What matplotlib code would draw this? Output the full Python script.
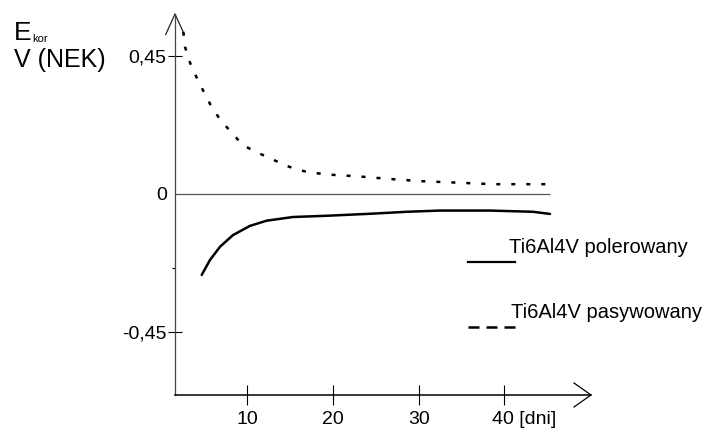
import numpy as np
import matplotlib
matplotlib.use("Agg")
import matplotlib.pyplot as plt
import matplotlib.transforms as mtransforms
from matplotlib.lines import Line2D

plt.rcParams['font.family'] = ['Liberation Sans', 'DejaVu Sans']

# czas ekspozycji [dni] i potencjal korozyjny [V wzgl. NEK]
dni_pol = [4.7, 5.67, 6.84, 8.35, 10.33, 12.28, 15.35, 19.28, 23.17, 24.68,
           28.61, 32.5, 38.32, 43.34, 45.33]
ekor_pol = [-0.264, -0.215, -0.172, -0.134, -0.104, -0.087, -0.075, -0.071,
            -0.066, -0.064, -0.058, -0.054, -0.054, -0.058, -0.065]

dni_pas = [2.55, 2.75, 3.34, 4.12, 5.0, 5.87, 6.95, 8.2, 9.48, 11.03, 12.67,
           14.3, 15.97, 17.68, 19.67, 23.17, 26.67, 30.16, 33.66, 38.68,
           44.16, 45.1]
ekor_pas = [0.529, 0.48, 0.428, 0.379, 0.33, 0.283, 0.239, 0.2, 0.16, 0.137,
            0.117, 0.095, 0.078, 0.069, 0.063, 0.057, 0.049, 0.042, 0.038,
            0.032, 0.032, 0.032]

xticks = [10, 20, 30, 40]
xlabels = ['10', '20', '30', '40 [dni]']
yticks = [-0.45, 0, 0.45]
ylabels = ['-0,45', '0', '0,45']
seria = ['Ti6Al4V polerowany', 'Ti6Al4V pasywowany']

W, H = 709, 432
fig = plt.figure(figsize=(W / 100, H / 100), dpi=100)


def fx(x):
    return x / W


def fy(y):
    return 1 - y / H


ax = fig.add_axes([fx(175), fy(395), (591 - 175) / W, (395 - 14) / H])
ax.set_xlim(1.586, 50.11)
ax.set_ylim(-0.6555, 0.587)

for s in ['top', 'right']:
    ax.spines[s].set_visible(False)
ax.spines['left'].set_color('#444444')
ax.spines['left'].set_linewidth(0.9)
ax.spines['bottom'].set_color('black')
ax.spines['bottom'].set_linewidth(1.1)

# strzalki na koncach osi
aw, ah = 416, 381
ax.plot([-9.3 / aw, 0, 9.3 / aw], [1 - 20.5 / ah, 1, 1 - 20.5 / ah],
        transform=ax.transAxes, clip_on=False, color='#222222', lw=0.9)
ax.plot([1 - 17 / aw, 1, 1 - 17 / aw], [12 / ah, 0, -12 / ah],
        transform=ax.transAxes, clip_on=False, color='black', lw=0.9)

# linia zera
ax.hlines(0, ax.get_xlim()[0], max(dni_pol), color='#555555', lw=0.9)

ax.plot(dni_pol, ekor_pol, color='black', lw=1.8, solid_capstyle='round',
        solid_joinstyle='round')
ax.plot(dni_pas, ekor_pas, color='black', lw=1.8, dashes=(1.6, 4.4))

ax.set_xticks(xticks)
ax.set_xticklabels(xlabels, fontsize=14)
ax.tick_params(axis='x', direction='inout', length=15, width=0.8, pad=4)
ax.set_yticks(yticks)
ax.set_yticklabels(ylabels, fontsize=14)
ax.tick_params(axis='y', direction='inout', length=9.5, width=0.8, pad=1.2)
ax.set_yticks([-0.24], minor=True)
ax.tick_params(axis='y', which='minor', direction='out', length=2.5, width=0.8)

# tick dla zera jest niewidoczny
for t in ax.yaxis.get_major_ticks():
    if t.get_loc() == 0:
        t.tick1line.set_visible(False)

lab40 = ax.get_xticklabels()[-1]
lab40.set_horizontalalignment('left')
lab40.set_transform(lab40.get_transform() +
                    mtransforms.ScaledTranslation(-9 / 72, 0, fig.dpi_scale_trans))

# opis osi Y
fig.text(fx(14), fy(40), 'E', fontsize=19, va='baseline', ha='left')
fig.text(fx(32), fy(42), 'kor', fontsize=8, va='baseline', ha='left')
fig.text(fx(14), fy(67), 'V (NEK)', fontsize=18, va='baseline', ha='left')

# legenda
fig.add_artist(Line2D([fx(468), fx(515)], [fy(262), fy(262)], color='black', lw=1.6))
fig.add_artist(Line2D([fx(468), fx(515)], [fy(327), fy(327)], color='black', lw=1.8,
                      dashes=(4.4, 2.8)))
fig.text(fx(509), fy(253), seria[0], fontsize=14.5, va='baseline', ha='left')
fig.text(fx(511), fy(318), seria[1], fontsize=14.5, va='baseline', ha='left')

fig.savefig('out.png', dpi=100)
